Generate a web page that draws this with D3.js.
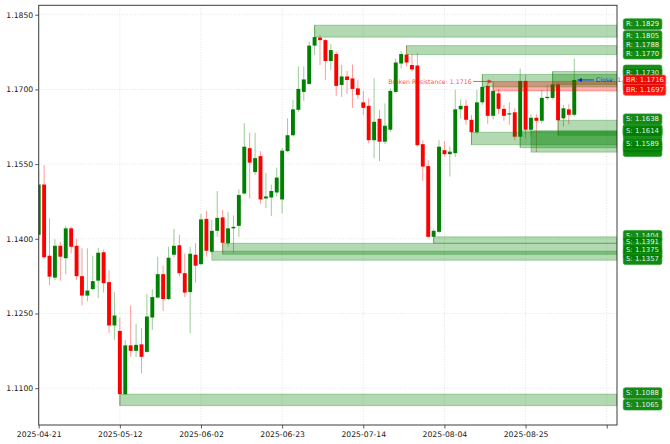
<!DOCTYPE html>
<html><head><meta charset="utf-8">
<script src="https://cdn.jsdelivr.net/npm/d3@7"></script>
<style>html,body{margin:0;padding:0;background:#fff;} svg{display:block;font-family:"DejaVu Sans",sans-serif;}</style>
</head><body><svg id="c" width="670" height="444"></svg>
<script>
// ---- data (EUR/USD daily, index 0 = 2025-04-21) ----
const opens = [1.1408,1.1509,1.1366,1.1322,1.1386,1.1361,1.1421,1.1386,1.1325,1.1286,
1.1299,1.1316,1.1373,1.1313,1.1226,1.1215,1.1088,1.1186,1.1175,1.1188,
1.1173,1.1242,1.1282,1.1329,1.1279,1.1368,1.1387,1.1331,1.1293,1.1368,
1.1349,1.1440,1.1374,1.1416,1.1443,1.1391,1.1421,1.1426,1.1491,1.1582,
1.1534,1.1566,1.1481,1.1483,1.1493,1.1479,1.1576,1.1608,1.1659,1.1695,
1.1711,1.1788,1.1804,1.1799,1.1757,1.1771,1.1709,1.1726,1.1722,1.1702,
1.1674,1.1667,1.1598,1.1641,1.1595,1.1619,1.1695,1.1752,1.1770,1.1749,
1.1748,1.1590,1.1546,1.1404,1.1414,1.1578,1.1570,1.1572,1.1660,1.1667,
1.1639,1.1614,1.1674,1.1707,1.1647,1.1692,1.1661,1.1650,1.1654,1.1605,
1.1717,1.1619,1.1643,1.1637,1.1683,1.1683,1.1710,1.1642,1.1660,1.1649];
const highs = [1.1540,1.1548,1.1441,1.1399,1.1394,1.1426,1.1425,1.1400,1.1381,1.1381,
1.1366,1.1382,1.1378,1.1337,1.1293,1.1242,1.1197,1.1266,1.1229,1.1221,
1.1289,1.1299,1.1364,1.1346,1.1384,1.1420,1.1408,1.1371,1.1384,1.1391,
1.1450,1.1456,1.1438,1.1496,1.1458,1.1454,1.1447,1.1499,1.1632,1.1613,
1.1613,1.1576,1.1532,1.1509,1.1543,1.1582,1.1642,1.1679,1.1746,1.1746,
1.1796,1.1829,1.1809,1.1801,1.1791,1.1776,1.1749,1.1737,1.1750,1.1719,
1.1697,1.1682,1.1722,1.1659,1.1672,1.1702,1.1762,1.1777,1.1788,1.1771,
1.1773,1.1598,1.1558,1.1420,1.1598,1.1596,1.1585,1.1699,1.1680,1.1679,
1.1649,1.1699,1.1730,1.1719,1.1716,1.1701,1.1669,1.1674,1.1662,1.1742,
1.1729,1.1650,1.1650,1.1699,1.1709,1.1736,1.1714,1.1669,1.1670,1.1762];
const lows = [1.1400,1.1360,1.1307,1.1317,1.1316,1.1329,1.1371,1.1317,1.1266,1.1274,
1.1297,1.1281,1.1292,1.1211,1.1197,1.1065,1.1086,1.1163,1.1163,1.1130,
1.1171,1.1217,1.1281,1.1255,1.1277,1.1363,1.1324,1.1283,1.1210,1.1312,
1.1348,1.1364,1.1371,1.1404,1.1370,1.1384,1.1372,1.1404,1.1489,1.1481,
1.1528,1.1471,1.1462,1.1446,1.1485,1.1451,1.1574,1.1605,1.1655,1.1677,
1.1709,1.1769,1.1749,1.1719,1.1739,1.1687,1.1685,1.1691,1.1663,1.1681,
1.1649,1.1592,1.1562,1.1556,1.1590,1.1615,1.1692,1.1742,1.1746,1.1736,
1.1585,1.1516,1.1401,1.1391,1.1411,1.1565,1.1525,1.1564,1.1641,1.1629,
1.1589,1.1610,1.1669,1.1631,1.1640,1.1650,1.1637,1.1629,1.1598,1.1584,
1.1602,1.1605,1.1574,1.1632,1.1679,1.1680,1.1608,1.1625,1.1630,1.1646];
const closes = [1.1509,1.1363,1.1324,1.1386,1.1364,1.1421,1.1384,1.1325,1.1286,1.1296,
1.1315,1.1372,1.1311,1.1226,1.1246,1.1088,1.1186,1.1175,1.1187,1.1163,
1.1244,1.1283,1.1329,1.1279,1.1362,1.1386,1.1331,1.1292,1.1370,1.1346,
1.1439,1.1376,1.1416,1.1442,1.1392,1.1421,1.1424,1.1488,1.1585,1.1553,
1.1562,1.1479,1.1485,1.1496,1.1523,1.1577,1.1608,1.1660,1.1701,1.1720,
1.1788,1.1805,1.1799,1.1757,1.1779,1.1707,1.1726,1.1719,1.1701,1.1689,
1.1663,1.1598,1.1635,1.1595,1.1627,1.1697,1.1754,1.1771,1.1754,1.1740,
1.1588,1.1545,1.1404,1.1416,1.1585,1.1570,1.1575,1.1660,1.1667,1.1639,
1.1614,1.1674,1.1705,1.1647,1.1697,1.1661,1.1647,1.1652,1.1605,1.1717,
1.1619,1.1643,1.1637,1.1683,1.1685,1.1710,1.1638,1.1662,1.1649,1.1719];

const xTickIdx = [0,15,30,45,60,75,90,105];
const xTickLabels = ["2025-04-21","2025-05-12","2025-06-02","2025-06-23","2025-07-14","2025-08-04","2025-08-25",""];
const yTicks = [1.1100,1.1250,1.1400,1.1550,1.1700,1.1850];

// zones: start candle index, low, high, kind
const zoneStart = [51,68,82,95,84,15,32,34,73,80,89,91,96];
const zoneLow   = [1.1805,1.1770,1.1705,1.1710,1.1697,1.1065,1.1357,1.1369,1.1391,1.1589,1.1583,1.1574,1.1608];
const zoneHigh  = [1.1829,1.1788,1.1730,1.1736,1.1716,1.1088,1.1375,1.1391,1.1404,1.1614,1.1617,1.1616,1.1638];
const zoneKind  = ["R","R","R","R","BR","S","S","S","S","S","S","S","S"];

// right-hand level labels, in drawing order (shown = text visible, otherwise covered by later boxes)
const labelKind  = ["R","R","R","R","R","R","R","R","BR","BR",
                    "S","S","S","S","S","S","S","S",
                    "S","S","S","S","S","S","S"];
const labelValue = [1.1829,1.1805,1.1788,1.1770,1.1736,1.1710,1.1705,1.1730,1.1716,1.1697,
                    1.1617,1.1616,1.1608,1.1583,1.1574,1.1638,1.1614,1.1589,
                    1.1369,1.1404,1.1391,1.1375,1.1357,1.1088,1.1065];
const labelShown = [1,1,1,1,0,0,0,1,1,1,
                    0,0,0,0,0,1,1,1,
                    0,1,1,1,1,1,1];
const brokenLevel = 1.1716;
const brokenStart = 84;

// ---- drawing ----
const L=38.7, R=617, T=5.3, B=425;
const x = d3.scaleLinear().domain([0,106.9]).range([L,R]);
const y = d3.scaleLinear().domain([1.10261,1.18689]).range([B,T]);
const svg = d3.select('#c');
svg.append('rect').attr('width',670).attr('height',444).attr('fill','#fff');
svg.append('defs').append('clipPath').attr('id','clip')
  .append('rect').attr('x',L).attr('y',T).attr('width',R-L).attr('height',B-T);

const GREEN='#008000', RED='#ff0000';

// grid
const grid = svg.append('g');
grid.selectAll('.gy').data(yTicks).enter().append('line')
  .attr('x1',L).attr('x2',R).attr('y1',d=>y(d)).attr('y2',d=>y(d))
  .attr('stroke','#b0b0b0').attr('stroke-opacity',0.45).attr('stroke-width',0.8).attr('stroke-dasharray','1,1.6');
grid.selectAll('.gx').data(xTickIdx).enter().append('line')
  .attr('y1',T).attr('y2',B).attr('x1',d=>x(d)).attr('x2',d=>x(d))
  .attr('stroke','#b0b0b0').attr('stroke-opacity',0.45).attr('stroke-width',0.8).attr('stroke-dasharray','1,1.6');

const plot = svg.append('g').attr('clip-path','url(#clip)');
const idx = d3.range(opens.length);
const col = i => closes[i] >= opens[i] ? GREEN : RED;

// wicks
plot.selectAll('.wick').data(idx).enter().append('line')
  .attr('x1',i=>x(i)).attr('x2',i=>x(i))
  .attr('y1',i=>y(highs[i])).attr('y2',i=>y(lows[i]))
  .attr('stroke',col).attr('stroke-opacity',0.4).attr('stroke-width',1);
// bodies
const bw = 3.9;
plot.selectAll('.body').data(idx).enter().append('rect')
  .attr('x',i=>x(i)-bw/2).attr('width',bw)
  .attr('y',i=>y(Math.max(opens[i],closes[i])))
  .attr('height',i=>Math.max(1.2, Math.abs(y(opens[i])-y(closes[i]))))
  .attr('fill',col);

// zones
const zi = d3.range(zoneStart.length);
plot.selectAll('.zone').data(zi).enter().append('rect')
  .attr('x',i=>x(zoneStart[i])).attr('width',i=>R-x(zoneStart[i]))
  .attr('y',i=>y(zoneHigh[i])).attr('height',i=>y(zoneLow[i])-y(zoneHigh[i]))
  .attr('fill',i=>zoneKind[i]==='BR'?RED:GREEN).attr('fill-opacity',0.3)
  .attr('stroke',i=>zoneKind[i]==='BR'?RED:GREEN).attr('stroke-opacity',0.3).attr('stroke-width',1);

// broken resistance annotation
const by = y(brokenLevel);
const bx = x(brokenStart);
svg.append('text').attr('x',bx-21.5).attr('y',by).attr('text-anchor','end')
  .attr('dominant-baseline','central').attr('font-size','6.25px')
  .attr('fill',RED).attr('fill-opacity',0.75).text('Broken Resistance: '+d3.format('.4f')(brokenLevel));
svg.append('line').attr('x1',bx-20).attr('x2',bx-4).attr('y1',by).attr('y2',by)
  .attr('stroke',RED).attr('stroke-opacity',0.75).attr('stroke-width',0.9);
svg.append('path').attr('d',`M${bx},${by} L${bx-5},${by-2} L${bx-5},${by+2} Z`)
  .attr('fill',RED).attr('fill-opacity',0.75);

// close annotation
const last = opens.length-1;
const cy = y(closes[last]);
const cx = x(last)+2.6;
svg.append('line').attr('x1',cx+4).attr('x2',cx+17).attr('y1',cy).attr('y2',cy)
  .attr('stroke','#0000ff').attr('stroke-opacity',0.8).attr('stroke-width',0.9);
svg.append('path').attr('d',`M${cx},${cy} L${cx+5},${cy-2} L${cx+5},${cy+2} Z`)
  .attr('fill','#0000ff').attr('fill-opacity',0.8);
svg.append('text').attr('x',cx+19).attr('y',cy).attr('dominant-baseline','central')
  .attr('font-size','6.25px').attr('fill','#0000ff').attr('fill-opacity',0.75)
  .text('Close: '+d3.format('.4f')(closes[last]));

// axes
const yAxis = svg.append('g').attr('transform',`translate(${L},0)`)
  .call(d3.axisLeft(y).tickValues(yTicks).tickFormat(d3.format('.4f')).tickSize(3.5).tickPadding(2));
const xAxis = svg.append('g').attr('transform',`translate(0,${B})`)
  .call(d3.axisBottom(x).tickValues(xTickIdx).tickFormat((d,i)=>xTickLabels[i]).tickSize(3.5).tickPadding(3));
[yAxis,xAxis].forEach(a=>{
  a.select('.domain').remove();
  a.selectAll('.tick line').attr('stroke','#333').attr('stroke-width',0.8);
  a.selectAll('.tick text').attr('fill','#222').style('font-size','7.7px').style('font-family','"DejaVu Sans",sans-serif');
});

// spines
svg.append('rect').attr('x',L).attr('y',T).attr('width',R-L).attr('height',B-T)
  .attr('fill','none').attr('stroke','#3c3c3c').attr('stroke-width',1);

// right labels
const lab = svg.append('g');
labelKind.forEach((k,i)=>{
  const v = labelValue[i];
  const yy = y(v)-1;
  const str = k+': '+d3.format('.4f')(v);
  const boxW = (k==='BR'?42.5:38.6);
  lab.append('rect').attr('x',623.3).attr('y',yy-5.4).attr('height',10.8).attr('rx',2)
    .attr('width',boxW)
    .attr('fill',k==='BR'?RED:GREEN).attr('fill-opacity',0.92)
    .attr('stroke',k==='BR'?'#ff4d4d':'#2e9e2e').attr('stroke-width',0.7);
  if (labelShown[i]) {
    lab.append('text').attr('x',626).attr('y',yy).attr('dominant-baseline','central')
      .attr('font-size','6.9px').attr('fill','#ffffff').attr('fill-opacity',0.92)
      .text(str);
  }
});
</script></body></html>
